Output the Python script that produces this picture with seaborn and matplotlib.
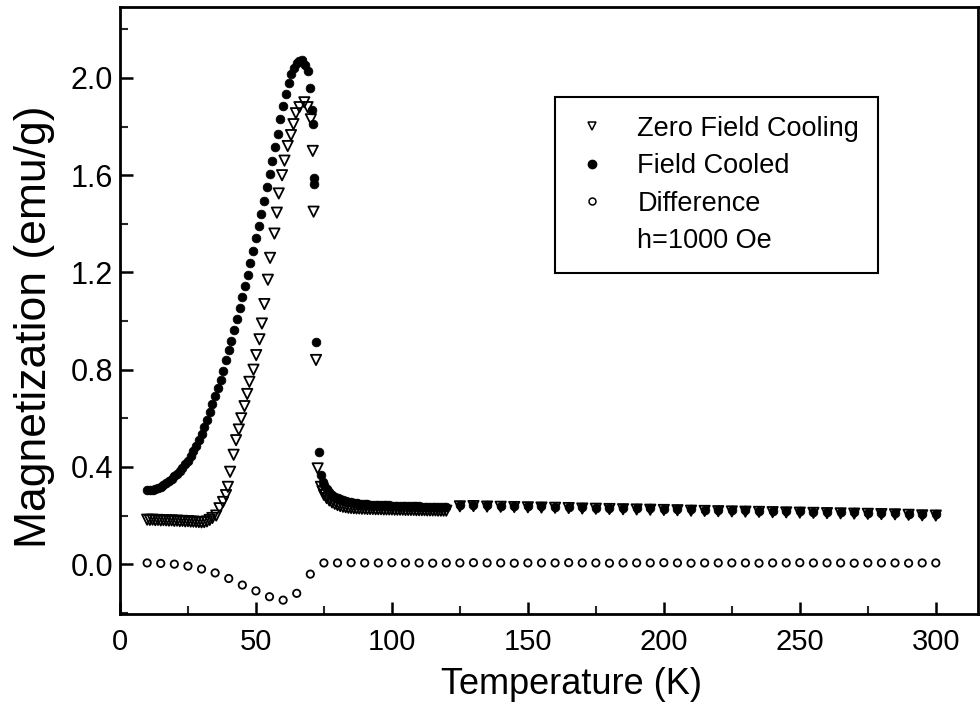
import numpy as np
import pandas as pd
import matplotlib
matplotlib.use("Agg")
import matplotlib.pyplot as plt
from matplotlib.lines import Line2D
from matplotlib.ticker import MultipleLocator, FormatStrFormatter
import seaborn as sns

# ---------------- data ----------------
fc_T = [10, 11, 12, 13, 14, 15, 16, 17, 18, 19, 20, 21, 22, 23, 24, 25, 26, 27, 28, 29,
        30, 31, 32, 33, 34, 35, 36, 37, 38, 39, 40, 41, 42, 43, 44, 45, 46, 47, 48, 49,
        50, 51, 52, 53, 54, 55, 56, 57, 58, 59, 60, 61, 62, 63, 64, 65, 66, 67, 68, 69,
        70, 70.6, 71.0, 71.3, 71.4, 72.1, 73.1, 73.9, 74.5, 75,
        76, 77, 78, 79, 80, 81, 82, 83, 84, 85, 86, 87, 88, 89, 90, 91, 92, 93, 94, 95,
        96, 97, 98, 99, 100, 101, 102, 103, 104, 105, 106, 107, 108, 109, 110, 111, 112,
        113, 114, 115, 116, 117, 118, 119, 120,
        125, 130, 135, 140, 145, 150, 155, 160, 165, 170, 175, 180, 185, 190, 195, 200,
        205, 210, 215, 220, 225, 230, 235, 240, 245, 250, 255, 260, 265, 270, 275, 280,
        285, 290, 295, 300]
fc_M = [0.305, 0.305, 0.307, 0.310, 0.314, 0.319, 0.325, 0.333, 0.342, 0.352,
        0.362, 0.372, 0.383, 0.396, 0.410, 0.426, 0.444, 0.464, 0.486, 0.510,
        0.536, 0.564, 0.594, 0.625, 0.657, 0.690, 0.724, 0.759, 0.795, 0.840,
        0.880, 0.920, 0.965, 1.010, 1.055, 1.100, 1.145, 1.190, 1.240, 1.290,
        1.340, 1.390, 1.440, 1.495, 1.550, 1.605, 1.660, 1.715, 1.770, 1.830,
        1.885, 1.935, 1.980, 2.015, 2.040, 2.060, 2.070, 2.072, 2.055, 2.030,
        1.960, 1.870, 1.810, 1.590, 1.565, 0.915, 0.460, 0.366, 0.340, 0.325,
        0.308, 0.296, 0.286, 0.278, 0.272, 0.267, 0.263, 0.259, 0.256, 0.254,
        0.252, 0.250, 0.249, 0.248, 0.247, 0.246, 0.245, 0.245, 0.244, 0.244,
        0.243, 0.243, 0.242, 0.242, 0.241, 0.241, 0.240, 0.240, 0.240, 0.239,
        0.239, 0.239, 0.238, 0.238, 0.238, 0.237, 0.237, 0.237, 0.236, 0.236,
        0.236, 0.235, 0.235, 0.235, 0.234,
        0.243, 0.244, 0.242, 0.241, 0.240, 0.239, 0.238, 0.237, 0.236, 0.234,
        0.233, 0.232, 0.231, 0.230, 0.229, 0.228, 0.227, 0.225, 0.224, 0.223,
        0.222, 0.221, 0.220, 0.219, 0.218, 0.217, 0.216, 0.215, 0.214, 0.213,
        0.212, 0.211, 0.210, 0.208, 0.206, 0.205]

zfc_T = [10, 11, 12, 13, 14, 15, 16, 17, 18, 19, 20, 21, 22, 23, 24, 25, 26, 27, 28, 29,
         30, 31, 32, 33, 34, 35.4, 36.6, 37.9, 39.0, 39.7, 40.5, 41.8, 42.7, 43.7, 44.6,
         45.8, 46.8, 47.6, 49.1, 50.1, 51.3, 52.2, 53.1, 54.4, 55.2, 56.8, 57.7, 58.4,
         59.6, 60.5, 61.7, 62.9, 63.8, 64.7, 66.0, 67.8, 69.0, 70.2, 70.9, 71.2, 72.1,
         72.7, 73.9, 74.5, 75, 76, 77, 78, 79, 80, 81, 82, 83, 84, 85, 86, 87, 88, 89,
         90, 91, 92, 93, 94, 95, 96, 97, 98, 99, 100, 101, 102, 103, 104, 105, 106, 107,
         108, 109, 110, 111, 112, 113, 114, 115, 116, 117, 118, 119, 120,
         125, 130, 135, 140, 145, 150, 155, 160, 165, 170, 175, 180, 185, 190, 195, 200,
         205, 210, 215, 220, 225, 230, 235, 240, 245, 250, 255, 260, 265, 270, 275, 280,
         285, 290, 295, 300]
zfc_M = [0.183, 0.182, 0.183, 0.181, 0.182, 0.180, 0.181, 0.180, 0.179, 0.180,
         0.178, 0.179, 0.177, 0.178, 0.176, 0.177, 0.175, 0.175, 0.174, 0.173,
         0.172, 0.173, 0.176, 0.182, 0.190, 0.200, 0.230, 0.256, 0.284, 0.318,
         0.380, 0.450, 0.510, 0.554, 0.600, 0.650, 0.700, 0.750, 0.800, 0.860,
         0.925, 0.990, 1.070, 1.170, 1.260, 1.360, 1.446, 1.525, 1.600, 1.660,
         1.720, 1.765, 1.810, 1.855, 1.880, 1.900, 1.880, 1.830, 1.700, 1.450,
         0.840, 0.394, 0.318, 0.300, 0.285, 0.272, 0.262, 0.254, 0.248, 0.243,
         0.239, 0.236, 0.234, 0.232, 0.231, 0.230, 0.229, 0.229, 0.228, 0.228,
         0.227, 0.227, 0.227, 0.226, 0.226, 0.226, 0.225, 0.225, 0.225, 0.225,
         0.224, 0.224, 0.224, 0.224, 0.223, 0.223, 0.223, 0.223, 0.222, 0.222,
         0.222, 0.222, 0.221, 0.221, 0.221, 0.221, 0.220, 0.220, 0.220, 0.220,
         0.238, 0.239, 0.237, 0.236, 0.235, 0.234, 0.233, 0.232, 0.231, 0.229,
         0.228, 0.227, 0.226, 0.225, 0.224, 0.223, 0.222, 0.220, 0.219, 0.218,
         0.217, 0.216, 0.215, 0.214, 0.213, 0.212, 0.211, 0.210, 0.209, 0.208,
         0.207, 0.206, 0.205, 0.203, 0.201, 0.200]

diff_T = [10, 15, 20, 25, 30, 35, 40, 45, 50, 55, 60, 65, 70, 75, 80, 85, 90, 95, 100,
          105, 110, 115, 120, 125, 130, 135, 140, 145, 150, 155, 160, 165, 170, 175,
          180, 185, 190, 195, 200, 205, 210, 215, 220, 225, 230, 235, 240, 245, 250,
          255, 260, 265, 270, 275, 280, 285, 290, 295, 300]
diff_M = [0.005, 0.003, 0.000, -0.008, -0.020, -0.036, -0.059, -0.086, -0.110, -0.134,
          -0.148, -0.120, -0.041, 0.005, 0.005, 0.006, 0.005, 0.005, 0.006, 0.005,
          0.005, 0.004, 0.005, 0.005, 0.006, 0.005, 0.005, 0.004, 0.005, 0.005,
          0.005, 0.006, 0.005, 0.005, 0.004, 0.005, 0.005, 0.005, 0.006, 0.005,
          0.004, 0.005, 0.005, 0.005, 0.005, 0.004, 0.005, 0.005, 0.006, 0.005,
          0.005, 0.005, 0.004, 0.005, 0.005, 0.005, 0.004, 0.005, 0.005]

series_labels = ["Zero Field Cooling", "Field Cooled", "Difference"]
note_text = "h=1000 Oe"
x_ticks = [0, 50, 100, 150, 200, 250, 300]
y_ticks = [0.0, 0.4, 0.8, 1.2, 1.6, 2.0]

# ---------------- plotting ----------------
sns.set_theme(style="ticks")
plt.rcParams["font.family"] = ["Liberation Sans", "DejaVu Sans"]

fig = plt.figure(figsize=(9.8, 7.22), dpi=100)
ax = fig.add_axes([0.1224, 0.1496, 0.8755, 0.8407])

df_zfc = pd.DataFrame({"T": zfc_T, "M": zfc_M})
df_fc = pd.DataFrame({"T": fc_T, "M": fc_M})
df_diff = pd.DataFrame({"T": diff_T, "M": diff_M})

sns.scatterplot(data=df_zfc, x="T", y="M", ax=ax, marker="v", s=55,
                facecolor="none", edgecolor="black", linewidth=1.3, zorder=3)
sns.scatterplot(data=df_diff, x="T", y="M", ax=ax, marker="o", s=28,
                facecolor="none", edgecolor="black", linewidth=1.3, zorder=3)
sns.scatterplot(data=df_fc, x="T", y="M", ax=ax, marker="o", s=40,
                facecolor="black", edgecolor="black", linewidth=0.5, zorder=4)

ax.set_xlim(0, 315.5)
ax.set_ylim(-0.205, 2.292)
ax.xaxis.set_major_locator(MultipleLocator(50))
ax.xaxis.set_minor_locator(MultipleLocator(25))
ax.yaxis.set_major_locator(MultipleLocator(0.4))
ax.yaxis.set_minor_locator(MultipleLocator(0.2))
ax.yaxis.set_major_formatter(FormatStrFormatter("%.1f"))
ax.set_xticks(x_ticks)
ax.set_yticks(y_ticks)

ax.tick_params(axis="both", which="major", direction="in", length=9, width=1.8,
               colors="black", top=False, right=False)
ax.tick_params(axis="both", which="minor", direction="in", length=5.5, width=1.5,
               top=False, right=False)
ax.tick_params(axis="x", which="major", pad=10, labelsize=21)
ax.tick_params(axis="y", which="major", pad=5, labelsize=22)

for sp in ax.spines.values():
    sp.set_visible(True)
    sp.set_linewidth(2.0)
    sp.set_color("black")

ax.set_xlabel("Temperature (K)", fontsize=26, color="black")
ax.set_ylabel("Magnetization (emu/g)", fontsize=32, color="black")
ax.xaxis.set_label_coords(0.526, -0.088)
ax.yaxis.set_label_coords(-0.076, 0.474)

handles = [
    Line2D([], [], ls="none", marker="v", markersize=6, markerfacecolor="none",
           markeredgecolor="black", markeredgewidth=1.1),
    Line2D([], [], ls="none", marker="o", markersize=6, markerfacecolor="black",
           markeredgecolor="black"),
    Line2D([], [], ls="none", marker="o", markersize=5, markerfacecolor="none",
           markeredgecolor="black", markeredgewidth=1.1),
    Line2D([], [], ls="none", marker=None),
]
labels = series_labels + [note_text]
leg = ax.legend(handles, labels, loc="upper left", bbox_to_anchor=(0.507, 0.852),
                fontsize=19.5, frameon=True, fancybox=False, framealpha=1,
                edgecolor="black", borderpad=0.7, labelspacing=0.42,
                handlelength=1.34, handletextpad=1.0, borderaxespad=0)
leg.get_frame().set_linewidth(1.5)
for t in leg.get_texts():
    t.set_color("black")

fig.savefig("out.png", dpi=100, facecolor="white")
